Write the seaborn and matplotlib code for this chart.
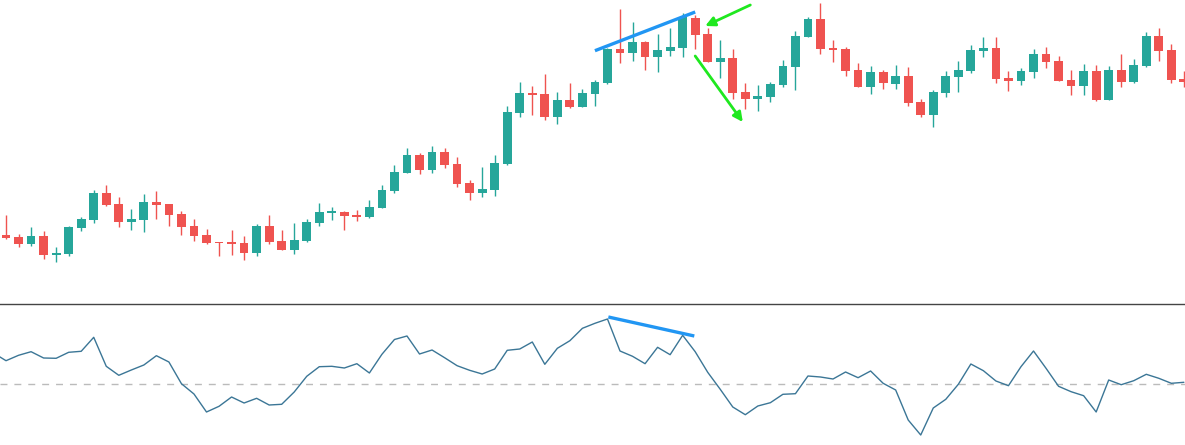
import numpy as np
import pandas as pd
import matplotlib
matplotlib.use("Agg")
import matplotlib.pyplot as plt
import seaborn as sns

# candle data (arbitrary price units)
opens = [65, 62.7, 56.3, 64, 45.3, 46.3, 72.3, 80.3, 107, 96,
         78.3, 80.3, 98, 96, 86, 74, 65, 58, 57, 57,
         47.3, 74, 59, 50.3, 59.3, 77.3, 87.3, 88, 85, 83.3,
         92.3, 109, 127.3, 145, 130, 148, 136, 117, 107.3, 110.3,
         136.3, 187.3, 207, 206, 183.3, 200, 193, 206.3, 217.3, 250.7,
         247.3, 258, 243.3, 249.3, 252.3, 282, 266.3, 238.3, 241.7, 208,
         201.3, 203.3, 215, 233.3, 263.3, 281, 252, 250.7, 230, 213.3,
         228, 216.3, 223.7, 198, 185, 207.3, 223.3, 229.3, 249.3, 252,
         222, 219.3, 228.3, 246, 239, 220, 214.3, 229, 200, 230,
         218.3, 234.3, 264, 250, 221]
highs = [85, 66, 73, 69, 53, 74, 83.3, 110, 115, 103,
         90.7, 106, 109, 96, 89, 81, 71, 58, 70, 64,
         76, 85, 70, 77, 80.7, 97, 93, 89, 90, 100,
         115, 135, 152, 147, 154, 152, 143, 120, 133, 145,
         194, 218, 214, 226, 208, 217, 211, 220, 252, 291,
         278, 259, 266, 272.3, 286.7, 285, 271.7, 260, 250.7, 216.7,
         215, 218.3, 240, 269, 282.7, 297, 260, 252.7, 236.7, 234,
         229.7, 234.7, 232.7, 200.7, 210, 229, 239, 255, 263.3, 263,
         229, 232, 251, 253, 244, 230, 236, 235, 234, 246,
         241, 268, 272, 256, 229]
lows = [61, 53, 54.3, 41.3, 38.3, 44.3, 69.3, 76.7, 94.3, 73.3,
        70, 68.3, 81, 74.3, 65.3, 59.3, 56.3, 44, 45, 40.3,
        44.3, 56.3, 50, 46.3, 58.3, 74, 80, 70, 79.3, 82.3,
        91.7, 107.3, 127.3, 126.3, 127.3, 132.3, 113.3, 100.3, 103.3, 104.3,
        135.3, 183.3, 185.3, 180.3, 176.3, 192, 193, 194.3, 215.7, 237.3,
        239.3, 229.7, 228.3, 244.3, 243.3, 251.3, 238.3, 222.3, 201.3, 191.3,
        189.3, 198.3, 213.3, 210, 263.3, 246.3, 238.3, 223.7, 212.7, 205.7,
        211.3, 211.3, 194.3, 183.3, 173.3, 203.3, 208.3, 226.7, 243.3, 217.3,
        209.3, 215.3, 222.3, 232.3, 218.7, 205.3, 205.3, 199.3, 200, 213.3,
        217.3, 233.3, 239.3, 217.3, 213.3]
closes = [62.3, 56, 64, 45.3, 47, 73, 81, 107, 95.3, 78.3,
          81, 98, 95.3, 85.3, 73.3, 64.3, 57.3, 56.7, 56.3, 47.3,
          74, 58.3, 50.3, 60, 78, 88, 88.3, 84.3, 83, 93,
          110, 128, 145, 130, 148, 135.3, 116.3, 107.3, 111, 137,
          188, 207, 205, 183.3, 200, 193, 207, 218, 250.7, 247.3,
          258, 243.3, 249.7, 253, 282.7, 265.3, 238.3, 241.7, 207.3, 201.3,
          204, 216, 234, 264, 281, 251.3, 250.3, 229.3, 213.3, 228,
          216.7, 223.7, 197.3, 185, 208, 224, 230, 250, 252, 221,
          219.3, 229, 246, 238.3, 219, 214.3, 229, 200, 230, 218.3,
          235, 264, 249, 220, 218.3]

# oscillator, first value belongs to the bar just left of the view
osc = [31.3, 23.6, 29, 32.6, 26.3, 26, 32, 33, 47, 18, 9,
       14.3, 19.3, 28.6, 22.3, 0.6, -9.7, -27.7, -22, -12.7, -18.7,
       -14, -20.7, -20, -7.7, 8, 17.6, 18, 16.3, 20.6, 11.3,
       30, 44.8, 48.3, 30.3, 34.3, 26.6, 18.6, 14, 10.3, 15.3,
       34, 35.3, 42.3, 20, 36, 43.6, 56, 61, 65.3, 33.3,
       28, 20.6, 37, 29.6, 49, 32.6, 12, -5, -22.7, -30.4,
       -21.7, -18.4, -10, -9.4, 8.3, 7.3, 5.3, 12.3, 6.6, 13.3,
       1, -5.7, -35.7, -50.7, -23.7, -15, 0, 20.3, 13.6, 3.3,
       -1.4, 17.6, 33.3, 16, -2, -7.4, -11.4, -27.7, 4.3, -0.4,
       3.6, 10, 6, 1, 2]

# divergence lines and arrows (x = bar number)
price_div_x = [48.0, 56.0]
price_div_y = [249.3, 288.0]
osc_div_x = [49.07, 55.93]
osc_div_y = [67.3, 48.3]
arrow1 = [(60.4, 295), (56.8, 274)]
arrow2 = [(56.0, 244), (59.8, 178)]

sns.set_theme(style="white")

up_col = "#26a69a"
down_col = "#ef5350"

df = pd.DataFrame({"open": opens, "high": highs, "low": lows, "close": closes})
df["bar"] = np.arange(1, len(df) + 1)
df["col"] = np.where(df["close"] >= df["open"], up_col, down_col)

osc_df = pd.DataFrame({"bar": np.arange(0, len(osc)), "osc": osc})

fig = plt.figure(figsize=(11.85, 4.45), dpi=100)
ax1 = fig.add_axes([0, 1 - 303 / 445, 1, 303 / 445])
ax2 = fig.add_axes([0, 0, 1, 141 / 445])

# candles
body = np.maximum((df["close"] - df["open"]).abs(), 1.5)
bottom = np.minimum(df["open"], df["close"])
ax1.vlines(df["bar"], df["low"], df["high"], colors=df["col"], lw=1.0, zorder=2)
ax1.bar(df["bar"], body, bottom=bottom, width=0.7, color=df["col"],
        linewidth=0, zorder=3)

ax1.plot(price_div_x, price_div_y, color="#2196f3", lw=2.4, zorder=4,
         solid_capstyle="butt")
for a in [arrow1, arrow2]:
    ax1.annotate("", xy=a[1], xytext=a[0],
                 arrowprops=dict(arrowstyle="-|>", color="#1fe81f", lw=2.0,
                                 mutation_scale=14, shrinkA=0, shrinkB=0),
                 zorder=5)

ax1.set_xlim(0.52, 95.09)
ax1.set_ylim(-3, 300)

# oscillator
ax2.axhline(0, color="#bbbbbb", lw=1.0, ls=(0, (5, 5)), zorder=1)
sns.lineplot(data=osc_df, x="bar", y="osc", ax=ax2, color="#3b7696", lw=1.0,
             zorder=2)
ax2.plot(osc_div_x, osc_div_y, color="#2196f3", lw=2.4, zorder=4,
         solid_capstyle="butt")
ax2.set_xlim(0.52, 95.09)
ax2.set_ylim(-60.7, 80.3)

for ax in [ax1, ax2]:
    ax.set_xticks([])
    ax.set_yticks([])
    ax.set_xlabel("")
    ax.set_ylabel("")
    for s in ax.spines.values():
        s.set_visible(False)
ax2.spines["top"].set_visible(True)
ax2.spines["top"].set_color("#444444")
ax2.spines["top"].set_linewidth(1.0)

fig.savefig("out.png", dpi=100, facecolor="white")
